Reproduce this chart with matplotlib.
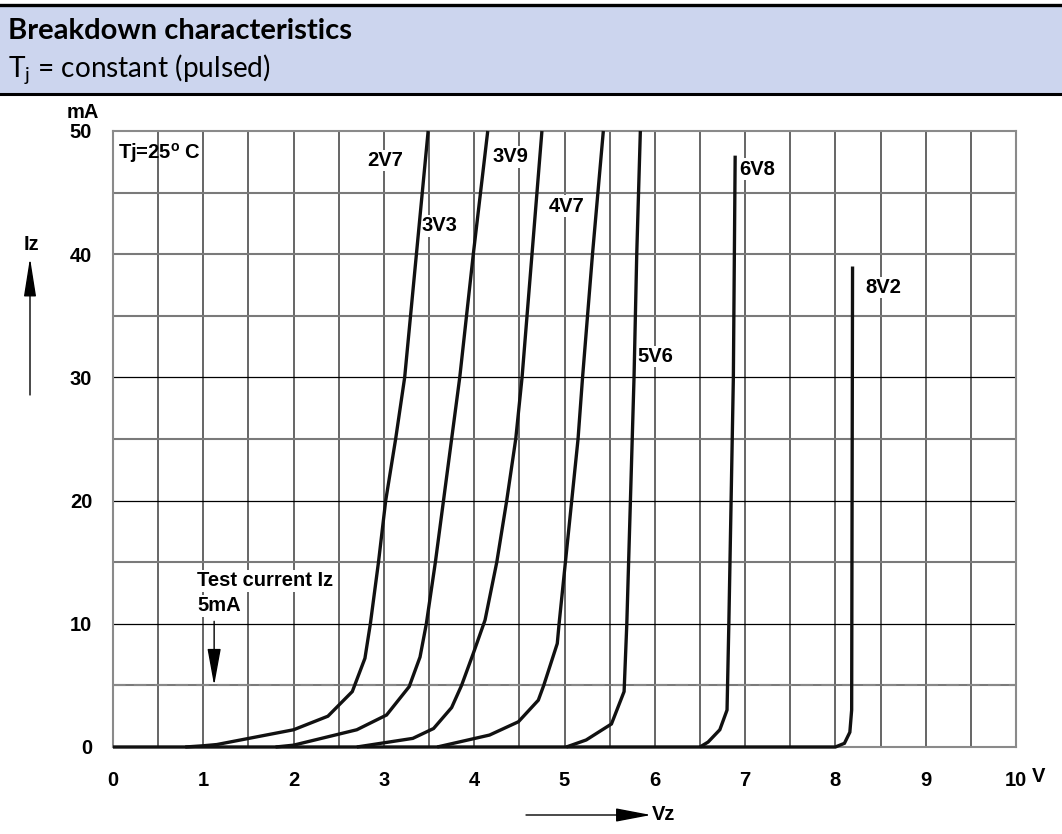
"""
Zener diode breakdown characteristics (Iz vs Vz), datasheet style.
"""
import matplotlib
matplotlib.use("Agg")
import matplotlib.pyplot as plt
from matplotlib.patches import Rectangle, FancyArrowPatch
from matplotlib.lines import Line2D
import numpy as np

plt.rcParams["font.family"] = ["Liberation Sans", "DejaVu Sans"]
plt.rcParams["mathtext.fontset"] = "custom"
plt.rcParams["mathtext.rm"] = "Lato"
plt.rcParams["mathtext.bf"] = "Liberation Sans:bold"

# ── Data (Vz in V, Iz in mA) ─────────────────────────────────────────────────
v_2v7 = [0.8, 1.0, 1.15, 2.0, 2.38, 2.65, 2.79, 2.85, 2.94, 3.02, 3.13, 3.23, 3.36, 3.49]
i_2v7 = [0.0, 0.1, 0.2, 1.4, 2.5, 4.5, 7.2, 10, 15, 20, 25, 30, 40, 50]

v_3v3 = [1.8, 2.0, 2.70, 3.03, 3.28, 3.40, 3.47, 3.57, 3.66, 3.75, 3.84, 3.99, 4.07, 4.15]
i_3v3 = [0.0, 0.15, 1.4, 2.6, 4.9, 7.3, 10, 15, 20, 25, 30, 40, 45, 50]

v_3v9 = [2.7, 3.32, 3.55, 3.75, 3.86, 3.99, 4.12, 4.25, 4.36, 4.46, 4.53, 4.64, 4.75]
i_3v9 = [0.0, 0.7, 1.5, 3.2, 5.0, 7.6, 10.3, 15, 20, 25, 30, 40, 50]

v_4v7 = [3.59, 4.17, 4.49, 4.71, 4.77, 4.92, 4.94, 5.01, 5.08, 5.15, 5.20, 5.31, 5.43]
i_4v7 = [0.0, 0.97, 2.05, 3.8, 5.0, 8.4, 10, 15, 20, 25, 30, 40, 50]

v_5v6 = [5.02, 5.24, 5.52, 5.66, 5.69, 5.73, 5.77, 5.80, 5.84]
i_5v6 = [0.0, 0.57, 1.87, 4.5, 10, 20, 30, 40, 50]

v_6v8 = [6.5, 6.59, 6.72, 6.80, 6.82, 6.87, 6.89]
i_6v8 = [0.0, 0.4, 1.4, 3.0, 10, 30, 48]

v_8v2 = [0.0, 8.0, 8.1, 8.16, 8.18, 8.19]
i_8v2 = [0.0, 0.0, 0.3, 1.2, 3.0, 39]

curves = [(v_2v7, i_2v7), (v_3v3, i_3v3), (v_3v9, i_3v9), (v_4v7, i_4v7),
          (v_5v6, i_5v6), (v_6v8, i_6v8), (v_8v2, i_8v2)]

# curve labels and where they sit (V, mA)
labels = ["2V7", "3V3", "3V9", "4V7", "5V6", "6V8", "8V2"]
label_x = [3.01, 3.62, 4.40, 5.02, 6.01, 7.13, 8.53]
label_y = [47.6, 42.3, 47.9, 43.9, 31.7, 46.9, 37.3]

x_ticks = [0, 1, 2, 3, 4, 5, 6, 7, 8, 9, 10]
y_ticks = [0, 10, 20, 30, 40, 50]
TEST_CURRENT = 5

W, H = 1062, 834
FS = 14.5


def fx(px):
    return px / W


def fy(py):
    return 1 - py / H


fig = plt.figure(figsize=(W / 100, H / 100), dpi=100)

# ── Header band ──────────────────────────────────────────────────────────────
fig.patches.append(Rectangle((0, fy(94)), 1, fy(6) - fy(94), transform=fig.transFigure,
                             facecolor="#CCD5EE", edgecolor="none", zorder=0))
fig.add_artist(Line2D([0, 1], [fy(5), fy(5)], color="black", lw=2.4))
fig.add_artist(Line2D([0, 1], [fy(93.5), fy(93.5)], color="black", lw=2.2))
fig.text(fx(8), fy(31), "Breakdown characteristics", family="Lato", weight="bold",
         fontsize=21, va="center", ha="left")
fig.text(fx(8), fy(70), r"T$_{\mathrm{j}}$ = constant (pulsed)", family="Lato",
         fontsize=20.2, va="center", ha="left")

# ── Plot area ────────────────────────────────────────────────────────────────
ax = fig.add_axes([fx(113), fy(747), fx(1016) - fx(113), fy(131) - fy(747)])
ax.set_xlim(0, 10)
ax.set_ylim(0, 50)

for xv in np.arange(0.5, 10, 0.5):
    ax.axvline(xv, color="#3c3c3c", lw=1.1, zorder=1)
for yv in range(5, 50, 5):
    if yv % 10 == 0 and yv <= 30:
        ax.axhline(yv, color="black", lw=0.9, zorder=1)
    else:
        ax.axhline(yv, color="#7a7a7a", lw=1.5, zorder=1)

ax.axhline(TEST_CURRENT, color="#888888", lw=1.5, ls=(0, (6, 4)), zorder=1.5)

for v, i in curves:
    ax.plot(v, i, color="#111111", lw=2.4, solid_joinstyle="miter",
            solid_capstyle="butt", zorder=3, clip_on=False)

for lab, lx, ly in zip(labels, label_x, label_y):
    ax.text(lx, ly, lab, fontsize=FS, weight="bold", ha="center", va="center",
            bbox=dict(facecolor="white", edgecolor="none", pad=1.0), zorder=2)

ax.text(0.05, 48.2, r"Tj=25$^{\mathbf{o}}$ C", fontsize=FS, weight="bold",
        ha="left", va="center", zorder=2)
ax.text(0.93, 13.5, "Test current Iz", fontsize=FS, weight="bold", ha="left",
        va="center", bbox=dict(facecolor="white", edgecolor="none", pad=1.0), zorder=2)
ax.text(0.93, 11.45, "5mA", fontsize=FS, weight="bold", ha="left",
        va="center", bbox=dict(facecolor="white", edgecolor="none", pad=1.0), zorder=2)
ax.annotate("", xy=(1.12, TEST_CURRENT), xytext=(1.12, 10.2),
            arrowprops=dict(arrowstyle="-|>,head_length=23,head_width=4.2",
                            mutation_scale=1, color="black", lw=1.0,
                            shrinkA=0, shrinkB=0), zorder=4)

for s in ax.spines.values():
    s.set_color("#8a8a8a")
    s.set_linewidth(1.5)

ax.set_xticks(x_ticks)
ax.set_xticklabels([str(t) for t in x_ticks])
ax.set_yticks(y_ticks)
ax.set_yticklabels([str(t) for t in y_ticks])
ax.tick_params(length=0, labelsize=FS)
for t in ax.get_xticklabels() + ax.get_yticklabels():
    t.set_fontweight("bold")
ax.tick_params(axis="x", pad=17)
ax.tick_params(axis="y", pad=15)

# ── Axis annotations outside the grid ────────────────────────────────────────
fig.text(fx(67), fy(113), "mA", fontsize=FS, weight="bold", ha="left", va="center")
fig.text(fx(1032), fy(776), "V", fontsize=FS, weight="bold", ha="left", va="center")
fig.text(fx(31), fy(244), "Iz", fontsize=FS, weight="bold", ha="center", va="center")
fig.text(fx(652), fy(815), "Vz", fontsize=FS, weight="bold", ha="left", va="center")

fig.add_artist(FancyArrowPatch(
    (fx(30), fy(395)), (fx(30), fy(258)), transform=fig.transFigure,
    arrowstyle="-|>,head_length=24,head_width=3.8", color="black", lw=1.0,
    mutation_scale=1, shrinkA=0, shrinkB=0))
fig.add_artist(FancyArrowPatch(
    (fx(526), fy(815)), (fx(651), fy(815)), transform=fig.transFigure,
    arrowstyle="-|>,head_length=22,head_width=4.2", color="black", lw=1.0,
    mutation_scale=1, shrinkA=0, shrinkB=0))

plt.savefig("out.png", dpi=100)
plt.close()
